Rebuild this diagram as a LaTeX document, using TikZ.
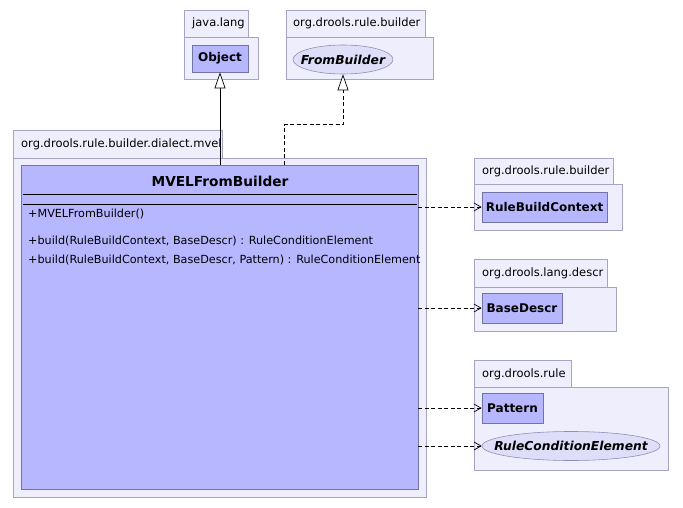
\documentclass[tikz,border=0pt]{standalone}
\usepackage{fontspec}
\setmainfont{DejaVu Sans}
\usetikzlibrary{arrows.meta,shapes.geometric}
\definecolor{pkgfill}{RGB}{238,238,252}
\definecolor{pkgdraw}{RGB}{165,165,195}
\definecolor{clsfill}{RGB}{183,183,255}
\definecolor{clsdraw}{RGB}{115,115,165}
\definecolor{ellfill}{RGB}{222,222,248}
\begin{document}
\begin{tikzpicture}[x=1pt,y=-1pt,
  pkg/.style={draw=pkgdraw,fill=pkgfill,line width=0.8pt},
  pkglabel/.style={font=\fontsize{11.5}{14}\selectfont,inner sep=0pt,anchor=west},
  cls/.style={draw=clsdraw,fill=clsfill,line width=0.8pt,font=\bfseries\fontsize{12}{14}\selectfont,inner sep=0pt},
  ell/.style={ellipse,draw=clsdraw!80,fill=ellfill,line width=0.6pt,inner sep=0pt},
  elltext/.style={font=\bfseries\itshape\fontsize{12.3}{14}\selectfont,inner sep=0pt},
  member/.style={font=\fontsize{11.2}{13}\selectfont,inner sep=0pt,anchor=base west},
  gen/.style={-{Triangle[open,length=16pt,width=11pt,fill=white]},line width=0.7pt},
  real/.style={gen,dashed,dash pattern=on 4pt off 2.5pt},
  dep/.style={-{Straight Barb[length=7pt,width=8pt]},dashed,dash pattern=on 4pt off 2.5pt,line width=0.7pt}]
\useasboundingbox[fill=white] (0,0) rectangle (683,508);

% java.lang
\draw[pkg] (184,10) rectangle (248,37);
\draw[pkg] (184,37) rectangle (258,79);
\node[pkglabel] (pjl) at (192,23) {java.lang};
\node[cls,minimum width=56,minimum height=27] (object) at (220,58.5) {Object};

% org.drools.rule.builder (top)
\draw[pkg] (286,10) rectangle (425,37);
\draw[pkg] (286,37) rectangle (433,79);
\node[pkglabel] (porb1) at (293,23) {org.drools.rule.builder};
\node[ell,minimum width=100,minimum height=29] (fb) at (343,59.5) {};
\node[elltext] (fbt) at (fb.center) {FromBuilder};

% org.drools.rule.builder.dialect.mvel
\draw[pkg] (13,130) rectangle (222,158);
\draw[pkg] (13,158) rectangle (426,497);
\begin{scope}
\clip (13,130) rectangle (222,158);
\node[pkglabel] (pmvel) at (21,144) {org.drools.rule.builder.dialect.mvel};
\end{scope}
\node[cls,draw=clsdraw,minimum width=397,minimum height=324] (mvel) at (219.5,327) {};
\node[font=\bfseries\fontsize{13.7}{16}\selectfont,inner sep=0pt] (mvelname) at (220,181) {MVELFromBuilder};
\draw[line width=0.8pt] (23,194) -- (417,194);
\draw[line width=0.8pt] (23,204) -- (417,204);
\node[member] (m1) at (28,217.5) {+MVELFromBuilder()};
\node[member] (m2) at (28,244) {+build(RuleBuildContext, BaseDescr) : RuleConditionElement};
\node[member] (m3) at (28,263) {+build(RuleBuildContext, BaseDescr, Pattern) : RuleConditionElement};

% org.drools.rule.builder (right)
\draw[pkg] (474,158) rectangle (613,184);
\draw[pkg] (474,184) rectangle (622,230);
\node[pkglabel] (porb2) at (482,171) {org.drools.rule.builder};
\node[cls,minimum width=125,minimum height=30] (rbc) at (544.5,207) {RuleBuildContext};

% org.drools.lang.descr
\draw[pkg] (474,259) rectangle (607,287);
\draw[pkg] (474,287) rectangle (616,331);
\node[pkglabel] (pold) at (482,273) {org.drools.lang.descr};
\node[cls,minimum width=80,minimum height=30] (bd) at (522,308) {BaseDescr};

% org.drools.rule
\draw[pkg] (474,360) rectangle (571,387);
\draw[pkg] (474,387) rectangle (668,470);
\node[pkglabel] (por) at (482,374) {org.drools.rule};
\node[cls,minimum width=61,minimum height=30] (pat) at (512.5,408) {Pattern};
\node[ell,minimum width=178,minimum height=29] (rce) at (571,446) {};
\node[elltext] (rcet) at (rce.center) {RuleConditionElement};

% connectors
\draw[gen] (object.south |- mvel.north) -- (object.south);
\coordinate (rs) at ([xshift=65]mvel.north);
\draw[real] (rs) -- ++(0,-40) -| (fb.south);
\draw[dep] (mvel.east |- rbc.west) -- (rbc.west);
\draw[dep] (mvel.east |- bd.west) -- (bd.west);
\draw[dep] (mvel.east |- pat.west) -- (pat.west);
\draw[dep] (mvel.east |- rce.west) -- (rce.west);
\end{tikzpicture}
\end{document}
